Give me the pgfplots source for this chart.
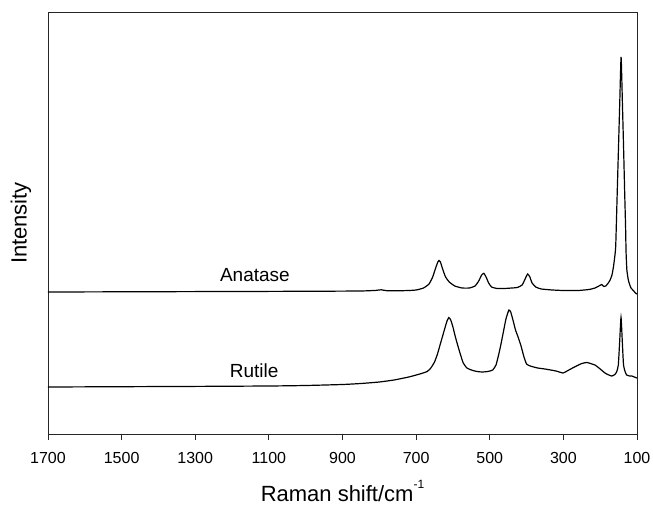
\documentclass[border=0pt]{standalone}
\usepackage{pgfplots}
\pgfplotsset{compat=1.18}
\usepackage{fontspec}
\setmainfont{Liberation Sans}
\begin{document}
\begin{tikzpicture}
\useasboundingbox (-48bp,-73bp) rectangle (605bp,434bp);
\begin{axis}[
  at={(0,0)}, anchor=south west,
  scale only axis, width=589bp, height=422bp,
  x dir=reverse, xmin=100, xmax=1700, ymin=-2, ymax=420,
  xtick={100,300,...,1700}, ytick=\empty,
  xtick pos=bottom, xtick align=outside,
  major tick length=6bp,
  axis line style={line width=0.9bp, black!85},
  xtick style={line width=0.9bp, black!85},
  /pgf/number format/assume math mode=true,
  /pgf/number format/1000 sep={},
  xticklabel style={font=\fontsize{16bp}{18bp}\selectfont, yshift=-9bp},
  xlabel={Raman shift/cm\raisebox{1.05ex}{\fontsize{12bp}{12bp}\selectfont -1}},
  ylabel={Intensity},
  xlabel style={font=\fontsize{22bp}{24bp}\selectfont, at={(axis description cs:0.5,0)}, anchor=base, yshift=-67bp},
  ylabel style={font=\fontsize{22bp}{24bp}\selectfont, at={(axis description cs:-0.0362,0.5)}, anchor=base},
  clip=false,
]
\addplot[black, line width=1.2bp, smooth, tension=0.3] coordinates {
(1700,140) (1500,140.2) (1300,140.4) (1100,140.6) (950,140.8) (850,141) (810,141.6) (795,142.2) (780,141.3) (750,141.2) (720,141.5) (700,142) (680,144) (665,148) (655,155) (647,164) (641,170) (638,171.5) (634,170) (628,163) (620,155) (610,150) (595,146) (575,144) (555,144) (540,146) (530,151) (522,157) (516,158.7) (510,155) (503,149) (495,145) (480,143.5) (460,143.5) (440,144) (425,144.5) (412,147) (404,153) (397,158) (391,155) (385,149) (375,145) (360,143) (330,142) (300,141.5) (260,141.5) (230,142.5) (214,144) (201,146.5) (196,147.5) (190,145.5) (185,146) (179,148.5) (173,152) (168,157) (164,165) (160.5,175) (157.8,186) (154.2,233) (150.6,280) (147,327) (143.2,375) (139.5,327) (136.5,285) (133.5,240) (131,205) (129.7,180) (127.5,162) (123.6,152) (120,147.5) (116.3,144) (110,141.5) (103.5,138.7) (100,138)
};
\addplot[black, line width=1.2bp, smooth, tension=0.3] coordinates {
(1700,45) (1500,45.3) (1300,45.6) (1100,46) (1000,46.5) (900,47.5) (850,48.5) (800,50) (760,52) (720,55) (690,58) (670,60.5) (660,64) (650,70) (642,78) (635,87) (628,96) (621,105) (616,111) (611,114.5) (606,112) (600,105) (594,96) (588,88) (580,78) (572,69) (562,64) (550,62) (535,60.5) (520,60) (505,60.5) (492,62) (483,67) (476,77) (470,87) (463,100) (456,113) (448,122) (443,120) (437,112) (430,102) (423,95) (415,86) (407,75) (400,68) (390,66) (370,64) (350,63) (320,61) (301,59) (290,61) (270,65) (250,68.5) (236,69.5) (222,68) (214,67) (200,63) (185,58.5) (169,56) (160,57.5) (155,60.5) (150.7,67) (147,91) (143.4,114.7) (140,91) (136.6,67) (132,60) (128,57) (120,56) (114,56) (104,54.5) (100,54)
};
\node[font=\fontsize{19bp}{21bp}\selectfont, anchor=base] at (axis cs:1138,150) {Anatase};
\node[font=\fontsize{19bp}{21bp}\selectfont, anchor=base] at (axis cs:1140,54.3) {Rutile};
\end{axis}
\end{tikzpicture}
\end{document}
